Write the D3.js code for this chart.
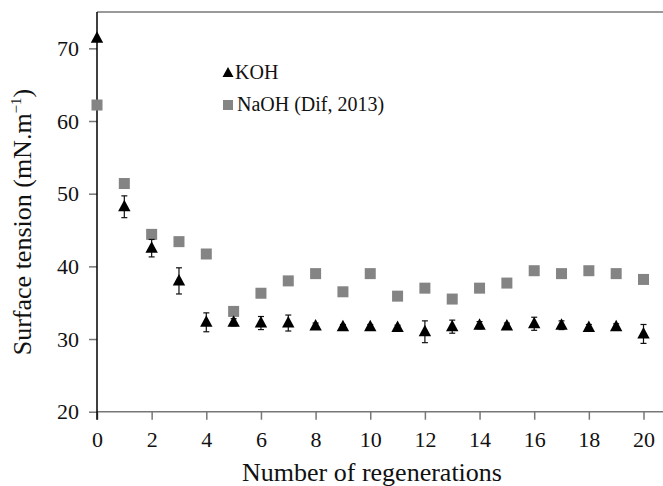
<!DOCTYPE html>
<html>
<head>
<meta charset="utf-8">
<script src="https://cdn.jsdelivr.net/npm/d3@7"></script>
<style>
  body { margin: 0; background: #fff; }
  svg text { font-family: "Liberation Serif", "Times New Roman", serif !important; fill: #111; }
</style>
</head>
<body>
<div id="chart"></div>
<script>
// Chart size
const width = 663;
const height = 486;

// Data
const regenerations = d3.range(0, 21);
const kohValues = [71.4, 48.2, 42.5, 38.0, 32.3, 32.3, 32.2, 32.2, 31.8, 31.7, 31.7,
                   31.6, 31.0, 31.7, 31.9, 31.8, 32.1, 31.9, 31.6, 31.7, 30.7];
const kohErrors = [0, 1.5, 1.2, 1.8, 1.3, 0.5, 0.9, 1.1, 0.4, 0.3, 0.3,
                   0.3, 1.5, 0.9, 0.5, 0.4, 0.9, 0.6, 0.4, 0.4, 1.3];
const naohValues = [62.2, 51.4, 44.4, 43.4, 41.7, 33.8, 36.3, 38.0, 39.0, 36.5, 39.0,
                    35.9, 37.0, 35.5, 37.0, 37.7, 39.4, 39.0, 39.4, 39.0, 38.2];
const xTicks = d3.range(0, 21, 2);
const yTicks = [20, 30, 40, 50, 60, 70];

const svg = d3.select("#chart").append("svg")
    .attr("width", width)
    .attr("height", height);

// Scales
const x = d3.scaleLinear().domain([0, 20]).range([97, 643.5]);
const y = d3.scaleLinear().domain([20, 75]).range([411.7, 12]);

// Top frame line
svg.append("line")
    .attr("x1", x(0)).attr("x2", width)
    .attr("y1", y(75)).attr("y2", y(75))
    .attr("stroke", "#9a9a9a").attr("stroke-width", 2);

// X axis
const xAxis = svg.append("g")
    .attr("transform", `translate(0,${y(20)})`)
    .call(d3.axisBottom(x).tickValues(xTicks).tickSize(8).tickPadding(12).tickFormat(d3.format("d")));
xAxis.select(".domain").remove();
xAxis.append("line")
    .attr("x1", x(0)).attr("x2", width)
    .attr("stroke", "#777").attr("stroke-width", 1.5);
xAxis.selectAll(".tick line").attr("stroke", "#777").attr("stroke-width", 1.5);
xAxis.attr("font-family", "Liberation Serif").attr("font-size", 22);
xAxis.selectAll(".tick text").attr("fill", "#111");

// Y axis
const yAxis = svg.append("g")
    .attr("transform", `translate(${x(0)},0)`)
    .call(d3.axisLeft(y).tickValues(yTicks).tickSize(8).tickPadding(10));
yAxis.select(".domain").remove();
yAxis.append("line")
    .attr("y1", y(75)).attr("y2", y(20) + 8)
    .attr("stroke", "#000").attr("stroke-width", 1.5);
yAxis.selectAll(".tick line").attr("stroke", "#777").attr("stroke-width", 1.5);
yAxis.attr("font-family", "Liberation Serif").attr("font-size", 22);
yAxis.selectAll(".tick text").attr("fill", "#111");

// Axis titles
svg.append("text")
    .attr("x", 372).attr("y", 481)
    .attr("text-anchor", "middle")
    .style("font-size", "26px")
    .text("Number of regenerations");

const yTitle = svg.append("text")
    .attr("transform", "translate(31,222) rotate(-90)")
    .attr("text-anchor", "middle")
    .style("font-size", "26px");
yTitle.append("tspan").text("Surface tension (mN.m");
yTitle.append("tspan").attr("dy", -10).style("font-size", "15px").text("−1");
yTitle.append("tspan").attr("dy", 10).text(")");

// NaOH squares
const sq = 11;
svg.append("g").selectAll("rect")
    .data(regenerations)
    .join("rect")
    .attr("x", d => x(d) - sq / 2)
    .attr("y", (d, i) => y(naohValues[i]) - sq / 2)
    .attr("width", sq).attr("height", sq)
    .attr("fill", "#848484");

// KOH error bars
const err = svg.append("g").attr("stroke", "#111").attr("stroke-width", 1.2);
regenerations.forEach((d, i) => {
    if (!kohErrors[i]) return;
    const lo = y(kohValues[i] - kohErrors[i]);
    const hi = y(kohValues[i] + kohErrors[i]);
    err.append("line").attr("x1", x(d)).attr("x2", x(d)).attr("y1", lo).attr("y2", hi);
    err.append("line").attr("x1", x(d) - 3).attr("x2", x(d) + 3).attr("y1", lo).attr("y2", lo);
    err.append("line").attr("x1", x(d) - 3).attr("x2", x(d) + 3).attr("y1", hi).attr("y2", hi);
});

// KOH triangles
const tri = "M0,-7L6.2,4.5L-6.2,4.5Z";
svg.append("g").selectAll("path")
    .data(regenerations)
    .join("path")
    .attr("d", tri)
    .attr("transform", (d, i) => `translate(${x(d)},${y(kohValues[i])})`)
    .attr("fill", "#000");

// Legend
const legend = svg.append("g");
legend.append("path").attr("d", "M0,-6L5.5,4L-5.5,4Z")
    .attr("transform", "translate(228,73)").attr("fill", "#000");
legend.append("text").attr("x", 235).attr("y", 79)
    .style("font-size", "20px").text("KOH");
legend.append("rect").attr("x", 223).attr("y", 100).attr("width", 10).attr("height", 10)
    .attr("fill", "#848484");
legend.append("text").attr("x", 237).attr("y", 111)
    .style("font-size", "20px").text("NaOH (Dif, 2013)");
</script>
</body>
</html>
